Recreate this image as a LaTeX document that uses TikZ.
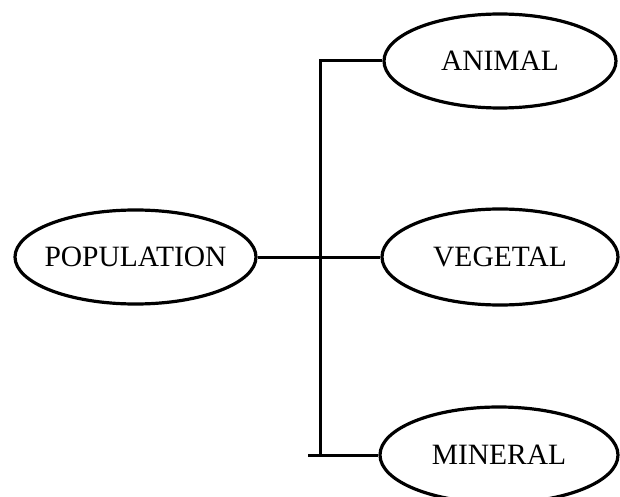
\documentclass[tikz,border=0pt]{standalone}
\usepackage{fontspec}
\setmainfont{Liberation Serif}
\usetikzlibrary{shapes.geometric}
% zero-width label so the oval size is set only by its minimum dimensions
\newcommand\ovallabel[1]{\makebox[0pt]{#1}}
\begin{document}
\begin{tikzpicture}[x=1pt,y=-1pt,
  oval/.style={draw, ellipse, inner sep=0pt, line width=3.2pt,
    font=\fontsize{29.5}{32}\selectfont},
  link/.style={draw, line width=3pt}]
\useasboundingbox (0,0) rectangle (620,497);
% category ovals
\node[oval, minimum width=241pt, minimum height=94pt] (pop) at (135.5,257) {\ovallabel{POPULATION}};
\node[oval, minimum width=232pt, minimum height=94pt] (ani) at (500,61) {\ovallabel{ANIMAL}};
\node[oval, minimum width=236pt, minimum height=96pt] (veg) at (500,257) {\ovallabel{VEGETAL}};
\node[oval, minimum width=238pt, minimum height=96pt] (min) at (499,455) {\ovallabel{MINERAL}};
% trunk of the branching connector
\coordinate (trunkBot) at (320,455);
\coordinate (stub) at (308,455);
\draw[link] (ani.west) -| (trunkBot);
\draw[link] (stub) -- (min.west);
\draw[link] (pop.east) -- (veg.west);
\end{tikzpicture}
\end{document}
